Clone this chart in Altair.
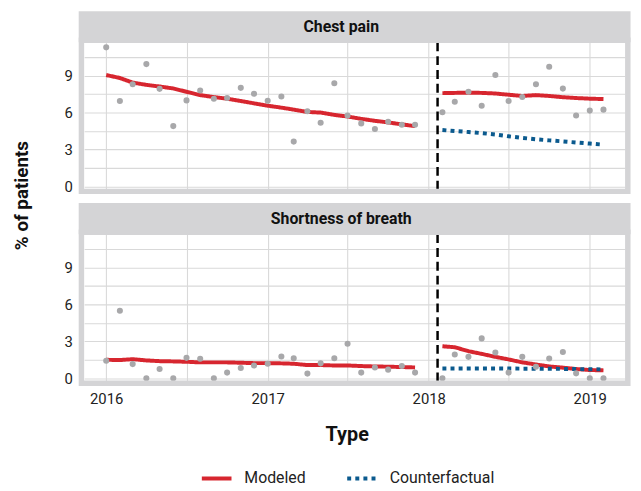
import altair as alt
import pandas as pd

# ---------------- data ----------------
panels = ["Chest pain", "Shortness of breath"]
pre_months = ["2016-01-01", "2016-02-01", "2016-03-01", "2016-04-01", "2016-05-01", "2016-06-01",
              "2016-07-01", "2016-08-01", "2016-09-01", "2016-10-01", "2016-11-01", "2016-12-01",
              "2017-01-01", "2017-02-01", "2017-03-01", "2017-04-01", "2017-05-01", "2017-06-01",
              "2017-07-01", "2017-08-01", "2017-09-01", "2017-10-01", "2017-11-01", "2017-12-01"]
post_months = ["2018-02-01", "2018-03-01", "2018-04-01", "2018-05-01", "2018-06-01", "2018-07-01",
               "2018-08-01", "2018-09-01", "2018-10-01", "2018-11-01", "2018-12-01", "2019-01-01",
               "2019-02-01"]
intervention_date = "2018-01-21"

chest_obs_pre = [11.30, 6.94, 8.30, 9.94, 7.93, 4.90, 6.99, 7.80, 7.13, 7.18, 8.01, 7.53,
                 6.96, 7.31, 3.64, 6.11, 5.17, 8.38, 5.76, 5.12, 4.66, 5.25, 5.01, 5.01]
chest_obs_post = [6.03, 6.88, 7.69, 6.56, 9.05, 6.94, 7.26, 8.30, 9.72, 7.95, 5.76, 6.16, 6.24]
chest_mod_pre = [9.05, 8.81, 8.44, 8.25, 8.12, 7.96, 7.69, 7.42, 7.26, 7.13, 6.94, 6.75,
                 6.56, 6.40, 6.24, 6.05, 6.00, 5.81, 5.68, 5.49, 5.33, 5.20, 5.04, 4.90]
chest_mod_post = [7.58, 7.60, 7.62, 7.60, 7.55, 7.45, 7.35, 7.42, 7.35, 7.25, 7.18, 7.13, 7.10]
chest_cf_post = [4.58, 4.50, 4.42, 4.33, 4.22, 4.07, 3.94, 3.83, 3.74, 3.66, 3.57, 3.48, 3.39]

sob_obs_pre = [1.42, 5.49, 1.15, 0.00, 0.75, 0.00, 1.66, 1.58, 0.00, 0.46, 0.83, 1.04,
               1.18, 1.77, 1.63, 0.38, 1.21, 1.63, 2.81, 0.46, 0.88, 0.70, 0.99, 0.46]
sob_obs_post = [0.00, 1.93, 1.74, 3.24, 2.09, 0.46, 1.74, 0.94, 1.61, 2.14, 0.40, 0.00, 0.00]
sob_mod_pre = [1.50, 1.48, 1.55, 1.45, 1.39, 1.37, 1.34, 1.29, 1.29, 1.29, 1.26, 1.23,
               1.23, 1.21, 1.18, 1.07, 1.07, 1.04, 1.04, 0.99, 0.96, 0.94, 0.91, 0.88]
sob_mod_post = [2.60, 2.52, 2.20, 1.98, 1.74, 1.53, 1.29, 1.12, 0.96, 0.86, 0.75, 0.67, 0.64]
sob_cf_post = [0.80, 0.80, 0.80, 0.80, 0.80, 0.79, 0.78, 0.78, 0.77, 0.76, 0.75, 0.73, 0.72]

types = ["Modeled", "Counterfactual"]
x_ticks = ["2016-01-01", "2016-07-01", "2017-01-01", "2017-07-01",
           "2018-01-01", "2018-07-01", "2019-01-01"]
y_ticks = [0, 1.5, 3, 4.5, 6, 7.5, 9, 10.5]

# ---------------- tables ----------------
obs = {panels[0]: (chest_obs_pre, chest_obs_post), panels[1]: (sob_obs_pre, sob_obs_post)}
mod = {panels[0]: (chest_mod_pre, chest_mod_post, chest_cf_post),
       panels[1]: (sob_mod_pre, sob_mod_post, sob_cf_post)}

def ts(s):
    return pd.Timestamp(s)

W, H = 547, 148
RED, BLUE, GREY, FRAME = "#d7262f", "#0b5a8e", "#a8a8aa", "#d4d4d6"
FONT = "Roboto"

x_scale = alt.Scale(domain=[alt.DateTime(year=2015, month=11, date=12),
                            alt.DateTime(year=2019, month=3, date=22)])
y_scale = alt.Scale(domain=[-0.185, 11.71], nice=False, zero=False)
x_vals = [alt.DateTime(year=int(s[:4]), month=int(s[5:7]), date=1) for s in x_ticks]

legend = alt.Legend(orient="none", legendX=117, legendY=193, direction="horizontal",
                    title="Type", titleFontSize=20, titleFontWeight="bold", titleFont=FONT,
                    titleAnchor="middle", titlePadding=17, titleColor="#111",
                    symbolType="stroke", symbolSize=900, symbolStrokeWidth=4,
                    labelFontSize=16, labelFont=FONT, labelColor="#222",
                    labelOffset=11, columnPadding=34)


def make_panel(name, bottom):
    pre_o, post_o = obs[name]
    pts = pd.DataFrame({"date": [ts(d) for d in pre_months + post_months],
                        "value": pre_o + post_o})
    m_pre, m_post, cf_post = mod[name]
    lines = pd.DataFrame({
        "date": [ts(d) for d in pre_months + post_months + post_months],
        "value": m_pre + m_post + cf_post,
        "type": ["Modeled"] * (len(pre_months) + len(post_months)) + ["Counterfactual"] * len(post_months),
        "seg": ["pre"] * len(pre_months) + ["post"] * len(post_months) + ["cf"] * len(post_months),
    })
    cut = pd.DataFrame({"date": [ts(intervention_date)]})
    one = alt.Data(values=[{"k": 1}])

    if bottom:
        xaxis = alt.Axis(values=x_vals, title=None, grid=True, ticks=False, domain=False,
                         labelExpr="month(datum.value) == 0 ? timeFormat(datum.value, '%Y') : ''",
                         labelPadding=11, labelFontSize=15)
    else:
        xaxis = alt.Axis(values=x_vals, title=None, grid=True, ticks=False, domain=False, labels=False)
    yaxis = alt.Axis(values=y_ticks, title=None, grid=True, ticks=False, domain=False,
                     labelExpr="datum.value % 3 == 0 ? format(datum.value, 'd') : ''",
                     labelPadding=12, labelFontSize=15)

    X = alt.X("date:T", scale=x_scale, axis=xaxis)
    Y = alt.Y("value:Q", scale=y_scale, axis=yaxis)

    rule = alt.Chart(cut).mark_rule(color="black", strokeWidth=2.5, strokeDash=[9, 5]).encode(
        x=alt.X("date:T", scale=x_scale, axis=xaxis), y=alt.value(0), y2=alt.value(H + 3))

    line = alt.Chart(lines).mark_line(strokeWidth=4).encode(
        x=X, y=Y,
        color=alt.Color("type:N", scale=alt.Scale(domain=types, range=[RED, BLUE]),
                        legend=legend if bottom else None),
        strokeDash=alt.StrokeDash("type:N", scale=alt.Scale(domain=types, range=[[1, 0], [4, 4.2]]),
                                  legend=legend if bottom else None),
        detail="seg:N")

    points = alt.Chart(pts).mark_circle(size=38, color=GREY, opacity=1).encode(x=X, y=Y)

    frame = alt.Chart(one).mark_rect(fillOpacity=0, stroke=FRAME, strokeWidth=5.5).encode(
        x=alt.value(-2.75), x2=alt.value(W + 2.75), y=alt.value(-2), y2=alt.value(H + 2.75))
    strip = alt.Chart(one).mark_rect(fill=FRAME).encode(
        x=alt.value(-5.5), x2=alt.value(W + 5.5), y=alt.value(-31.5), y2=alt.value(0))
    strip_text = alt.Chart(one).mark_text(font=FONT, fontSize=16, fontWeight="bold", color="#111",
                                          baseline="middle", align="center").encode(
        x=alt.value(260), y=alt.value(-15.5), text=alt.value(name))

    layers = [rule, line, points, frame, strip, strip_text]
    if not bottom:
        ytitle = alt.Chart(one).mark_text(font=FONT, fontSize=19, fontWeight="bold", color="#111",
                                          angle=270, baseline="middle", align="center").encode(
            x=alt.value(-63), y=alt.value(155), text=alt.value("% of patients"))
        layers.append(ytitle)
    return alt.layer(*layers).properties(width=W, height=H)


top = make_panel(panels[0], False)
bot = make_panel(panels[1], True)

chart = alt.vconcat(top, bot, spacing=46, bounds="flush").resolve_scale(
    color="independent", strokeDash="independent"
).resolve_legend(color="independent", strokeDash="independent").properties(
    padding={"left": 5, "top": 0, "right": 2, "bottom": 2}
).configure_view(stroke=None).configure_axis(
    gridColor="#d9d9d9", gridWidth=1.1, labelFont=FONT, labelColor="#222"
)

chart.save("out.html", embed_options={"renderer": "svg", "actions": False})
